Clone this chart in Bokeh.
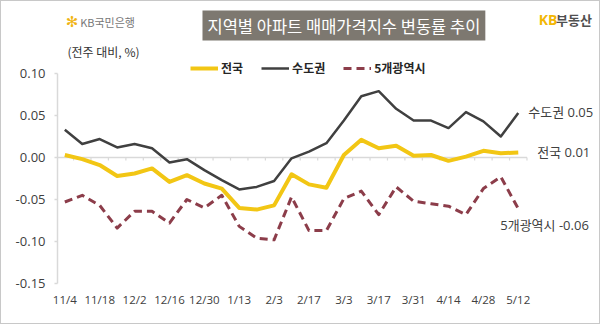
from bokeh.plotting import figure
from bokeh.layouts import column
from bokeh.models import (Range1d, FixedTicker, Legend, LegendItem, Label,
                          ColumnDataSource, NumeralTickFormatter)
from bokeh.core.properties import value
from bokeh.embed import file_html
from bokeh.resources import INLINE

# ---------------- data ----------------
weeks = ["11/4", "11/11", "11/18", "11/25", "12/2", "12/9", "12/16", "12/23", "12/30",
         "1/6", "1/13", "1/20", "2/3", "2/10", "2/17", "2/24", "3/3", "3/10", "3/17",
         "3/24", "3/31", "4/7", "4/14", "4/21", "4/28", "5/5", "5/12"]
nation = [0.003, -0.002, -0.009, -0.022, -0.019, -0.013, -0.029, -0.021, -0.031,
          -0.037, -0.060, -0.062, -0.057, -0.020, -0.032, -0.036, 0.003, 0.021, 0.011,
          0.014, 0.002, 0.003, -0.004, 0.001, 0.008, 0.005, 0.006]
capital = [0.033, 0.016, 0.022, 0.012, 0.016, 0.011, -0.006, -0.002, -0.015,
           -0.027, -0.038, -0.035, -0.028, -0.001, 0.007, 0.017, 0.044, 0.073, 0.079,
           0.058, 0.044, 0.044, 0.035, 0.054, 0.043, 0.025, 0.053]
metro = [-0.053, -0.045, -0.057, -0.084, -0.064, -0.064, -0.078, -0.050, -0.060,
         -0.045, -0.082, -0.096, -0.098, -0.047, -0.087, -0.087, -0.049, -0.040, -0.068,
         -0.035, -0.052, -0.055, -0.058, -0.068, -0.037, -0.023, -0.061]
series_names = ["전국", "수도권", "5개광역시"]
y_ticks = [-0.15, -0.10, -0.05, 0.00, 0.05, 0.10]
title_text = "지역별 아파트 매매가격지수 변동률 추이"
unit_text = "(전주 대비, %)"

KFONT = "Noto Sans CJK KR"
MIXFONT = "Open Sans, Noto Sans CJK KR"

# ---------------- geometry ----------------
B = 1                 # css border width
W = 600 - 2 * B       # inner width
TOP_H = 58            # header figure height
BOT_H = 324 - 2 * B - TOP_H
LEFT = 57 - B
PX_X = 17.44
X0 = -0.42
frame_w = W - LEFT
y_top_val, y_bot_val = 0.10, -0.15
y_top_px = 73 - B - TOP_H           # 0.10 position inside chart figure
y_bot_px = 283 - B - TOP_H          # -0.15 position inside chart figure
BOTTOM = BOT_H - y_bot_px
ppu = (y_bot_px - y_top_px) / (y_top_val - y_bot_val)
y_end = y_top_val + y_top_px / ppu

# ---------------- header figure ----------------
hdr = figure(width=W, height=TOP_H, output_backend="svg", toolbar_location=None,
             x_range=Range1d(0, W), y_range=Range1d(TOP_H, 0),
             x_axis_location=None, y_axis_location=None,
             min_border=0, min_border_left=0, min_border_right=0,
             min_border_top=0, min_border_bottom=0)
hdr.outline_line_color = None
hdr.xgrid.grid_line_color = None
hdr.ygrid.grid_line_color = None


def hx(px):
    return px - B


def hy(py):
    return py - B


hdr.add_layout(Label(x=hx(317), y=hy(25), text=title_text, text_align="center",
                     text_baseline="middle", text_font=KFONT, text_font_size="16.5px",
                     text_color="white", background_fill_color="#7d7870",
                     padding=(5, 3)))
hdr.add_layout(Label(x=hx(12), y=hy(51), text=unit_text, text_align="left",
                     text_baseline="middle", text_font=KFONT, text_font_size="12px",
                     text_color="#333333"))
hdr.add_layout(Label(x=hx(10), y=hy(21), text="✻", text_align="left", text_baseline="middle",
                     text_font="DejaVu Sans", text_font_size="15px", text_color="#f0b414"))
hdr.add_layout(Label(x=hx(26), y=hy(21), text="KB국민은행", text_align="left",
                     text_baseline="middle", text_font=KFONT, text_font_size="11px",
                     text_color="#777777"))
hdr.add_layout(Label(x=hx(532), y=hy(19), text="KB", text_align="left", text_baseline="middle",
                     text_font="Open Sans", text_font_size="14px", text_font_style="bold",
                     text_color="#f2b705"))
hdr.add_layout(Label(x=hx(551), y=hy(19), text="부동산", text_align="left",
                     text_baseline="middle", text_font=KFONT, text_font_size="13px",
                     text_font_style="bold", text_color="#505050"))

# ---------------- chart figure ----------------
p = figure(width=W, height=BOT_H, output_backend="svg", toolbar_location=None,
           x_range=Range1d(X0, X0 + frame_w / PX_X), y_range=Range1d(y_bot_val, y_end),
           min_border_left=LEFT, min_border_right=0, min_border_top=0,
           min_border_bottom=BOTTOM)
p.outline_line_color = None
p.xgrid.grid_line_color = None
p.ygrid.grid_line_color = None

yax = p.yaxis[0]
yax.ticker = FixedTicker(ticks=y_ticks)
yax.formatter = NumeralTickFormatter(format="0.00")
yax.bounds = (y_bot_val, y_top_val)
yax.axis_line_color = "#d9d9d9"
yax.axis_line_width = 1.5
yax.major_tick_line_color = "#d9d9d9"
yax.major_tick_line_width = 1.5
yax.major_tick_out = 3
yax.major_tick_in = 0
yax.minor_tick_line_color = None
yax.major_label_text_font = "Open Sans"
yax.major_label_text_font_size = "13px"
yax.major_label_text_color = "#404040"
yax.major_label_standoff = 9

n = len(weeks)
xs = list(range(n))
xax = p.xaxis[0]
xax.ticker = FixedTicker(ticks=list(range(0, n, 2)))
xax.major_label_overrides = {i: weeks[i] for i in range(0, n, 2)}
xax.axis_line_color = None
xax.major_tick_line_color = None
xax.minor_tick_line_color = None
xax.major_tick_out = 0
xax.major_tick_in = 0
xax.major_label_standoff = 8
xax.major_label_text_font = "Open Sans"
xax.major_label_text_font_size = "11.5px"
xax.major_label_text_color = "#404040"

# zero axis line with category ticks
p.segment(x0=[-0.5], y0=[0], x1=[n - 0.5], y1=[0], line_color="#d9d9d9", line_width=1.5)
p.segment(x0=[i + 0.5 for i in xs], y0=[0] * n, x1=[i + 0.5 for i in xs],
          y1=[-3 / ppu] * n, line_color="#d9d9d9", line_width=1.2)

r1 = p.line(xs, nation, line_color="#f2c614", line_width=4, line_join="round")
r2 = p.line(xs, capital, line_color="#404040", line_width=2.5, line_join="round")
r3 = p.line(xs, metro, line_color="#8c3d4a", line_width=3, line_dash="8 5", line_join="round")

legend = Legend(items=[LegendItem(label=series_names[0], renderers=[r1]),
                       LegendItem(label=series_names[1], renderers=[r2]),
                       LegendItem(label=series_names[2], renderers=[r3])],
                orientation="horizontal", location=(133, y_bot_px - (76 - B - TOP_H)),
                glyph_width=28, glyph_height=14, label_height=14, label_standoff=3,
                spacing=18, padding=0, margin=0,
                background_fill_alpha=0, border_line_color=None,
                label_text_font=KFONT, label_text_font_size="12px",
                label_text_font_style="bold", label_text_color="#262626")
p.add_layout(legend)

last_vals = [nation[-1], capital[-1], metro[-1]]
end_src = ColumnDataSource(dict(
    x=[n - 1] * 3,
    y=last_vals,
    text=[f"{nm} {v:.2f}" for nm, v in zip(series_names, last_vals)],
    xo=[19, 10, -18],
    yo=[0, -1, 16],
))
p.text(x="x", y="y", text="text", x_offset="xo", y_offset="yo", source=end_src,
       text_font=value(MIXFONT), text_font_size="13px", text_color="#404040",
       text_baseline="middle", text_align="left")

layout = column(hdr, p, spacing=0,
                styles={"border": "1px solid #c8c8c8", "box-sizing": "content-box"})

open("out.html", "w").write(file_html(layout, INLINE))
